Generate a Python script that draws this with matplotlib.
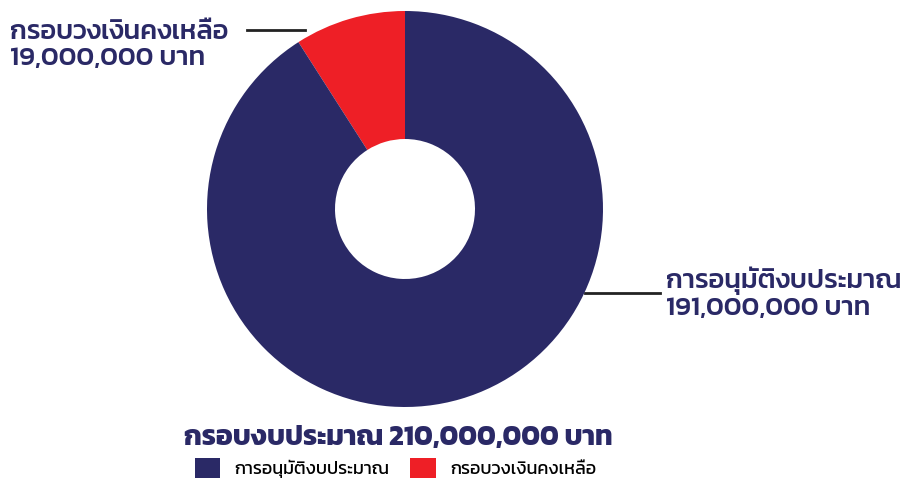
import matplotlib
matplotlib.use("Agg")
import matplotlib.pyplot as plt

plt.rcParams['font.family'] = ['Kanit', 'DejaVu Sans']

# data
labels = ['กรอบวงเงินคงเหลือ', 'การอนุมัติงบประมาณ']
values = [19000000, 191000000]
colors = ['#EE1F26', '#2A2966']
total_title = 'กรอบงบประมาณ 210,000,000 บาท'
text_color = '#2A2966'

fig = plt.figure(figsize=(9.09, 4.82), dpi=100)
ax = fig.add_axes([0, 0, 1, 1])

wedges, _ = ax.pie(values, colors=colors, startangle=90, counterclock=True,
                   center=(405, 273), radius=198,
                   wedgeprops=dict(width=128, linewidth=0))
ax.set_xlim(0, 909)
ax.set_ylim(0, 482)
ax.set_aspect('equal')
ax.axis('off')

# callouts
ax.plot([247, 305], [452, 452], color='#222222', lw=2, zorder=0)
ax.text(10, 436, labels[0] + '\n' + f'{values[0]:,} บาท', fontsize=19.5, weight=500,
        color=text_color, va='center', ha='left', linespacing=1.12)

ax.plot([585, 660], [189, 189], color='#222222', lw=2, zorder=0)
ax.text(666, 188, labels[1] + '\n' + f'{values[1]:,} บาท', fontsize=19.5, weight=500,
        color=text_color, va='center', ha='left', linespacing=1.12)

ax.text(398, 44, total_title, fontsize=20.2, weight='bold', color=text_color,
        ha='center', va='center')

ax.legend([wedges[1], wedges[0]], [labels[1], labels[0]], loc='lower center',
          bbox_to_anchor=(0.435, -0.025), ncol=2, frameon=False, fontsize=13,
          handlelength=1.4, handleheight=1.3, columnspacing=1.15, handletextpad=0.8)

fig.savefig('out.png')
